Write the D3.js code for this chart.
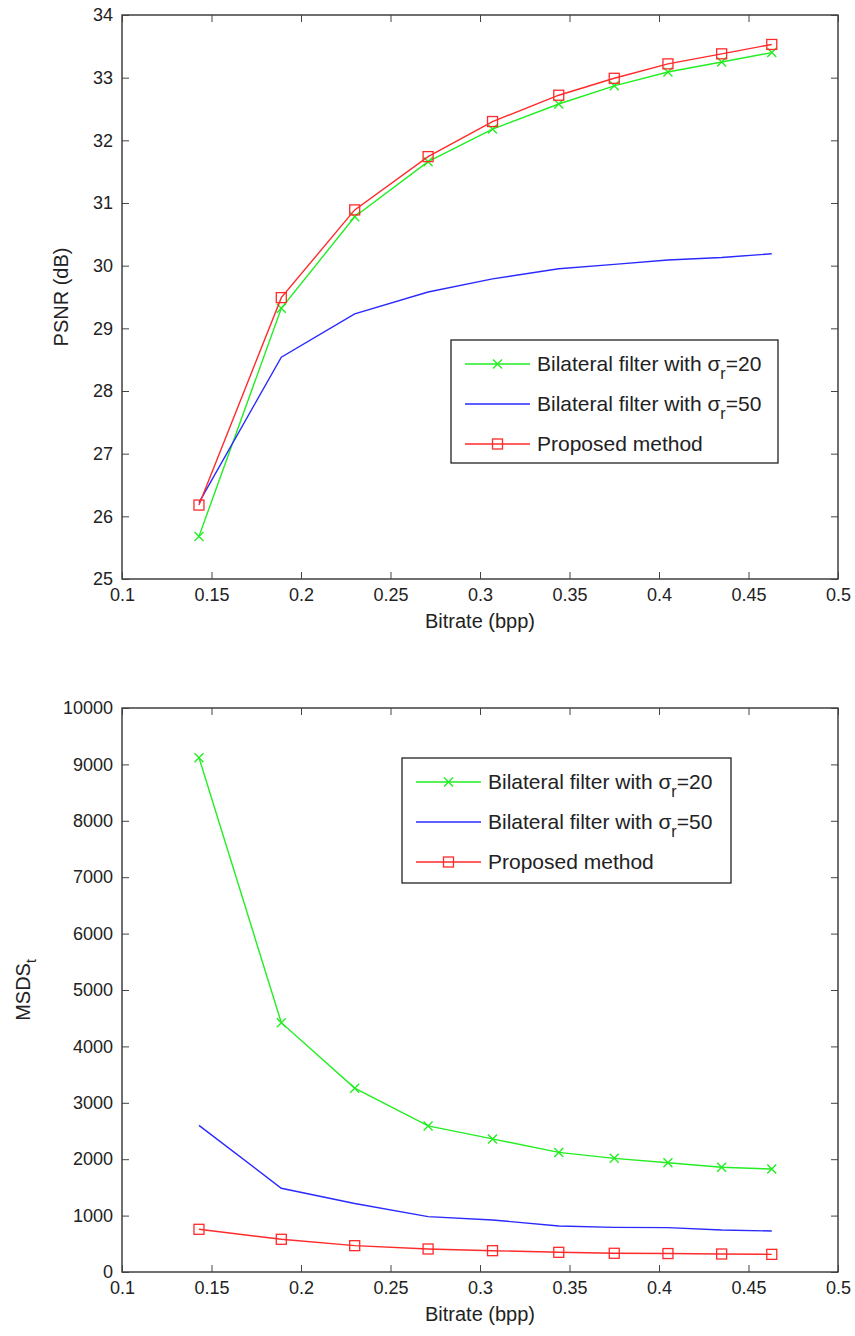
<!DOCTYPE html>
<html>
<head>
	<script src="https://cdn.jsdelivr.net/npm/d3@7"></script>
	<style>
		html, body {
			padding: 0;
			margin: 0;
			background: #fff;
		}
		text {
			font-family: "Liberation Sans", Arial, sans-serif;
			fill: #222;
		}
	</style>
</head>
<body>
	<script>
		// data
		var bitrate = [0.143, 0.189, 0.230, 0.271, 0.307, 0.344, 0.375, 0.405, 0.435, 0.463];

		var psnrBf20 = [25.68, 29.32, 30.78, 31.66, 32.18, 32.58, 32.87, 33.09, 33.25, 33.40];
		var psnrBf50 = [26.22, 28.54, 29.23, 29.58, 29.79, 29.95, 30.02, 30.09, 30.13, 30.19];
		var psnrProposed = [26.18, 29.49, 30.89, 31.74, 32.30, 32.72, 32.99, 33.22, 33.38, 33.53];

		var msdsBf20 = [9120, 4420, 3260, 2590, 2360, 2120, 2015, 1938, 1856, 1826];
		var msdsBf50 = [2600, 1484, 1215, 981, 922, 816, 792, 786, 745, 727];
		var msdsProposed = [757, 580, 467, 408, 378, 349, 332, 327, 319, 313];

		var xTicks = [0.1, 0.15, 0.2, 0.25, 0.3, 0.35, 0.4, 0.45, 0.5];
		var psnrTicks = [25, 26, 27, 28, 29, 30, 31, 32, 33, 34];
		var msdsTicks = [0, 1000, 2000, 3000, 4000, 5000, 6000, 7000, 8000, 9000, 10000];

		var seriesNames = ["Bilateral filter with σ", "Bilateral filter with σ", "Proposed method"];
		var seriesSub = ["r", "r", ""];
		var seriesTail = ["=20", "=50", ""];
		var seriesColors = ["#22ee22", "#2a2aff", "#ff2a2a"];
		var seriesMarkers = ["cross", "none", "square"];

		var width = 855, height = 1336;

		var svg = d3.select("body").append("svg")
			.attr("width", width)
			.attr("height", height);

		function drawPanel(opts) {
			var left = 122, right = 838;
			var top = opts.top, bottom = opts.top + 564;

			var x = d3.scaleLinear().domain([0.1, 0.5]).range([left, right]);
			var y = d3.scaleLinear().domain(opts.yDomain).range([bottom, top]);

			var g = svg.append("g");

			// box
			g.append("rect")
				.attr("x", left).attr("y", top)
				.attr("width", right - left).attr("height", bottom - top)
				.attr("fill", "none").attr("stroke", "#222").attr("stroke-width", 1.3);

			var xb = g.append("g").attr("transform", "translate(0," + bottom + ")")
				.call(d3.axisBottom(x).tickValues(xTicks).tickFormat(d3.format("")).tickSize(-7).tickPadding(9));
			var xt = g.append("g").attr("transform", "translate(0," + top + ")")
				.call(d3.axisTop(x).tickValues(xTicks).tickFormat("").tickSize(-7));
			var yl = g.append("g").attr("transform", "translate(" + left + ",0)")
				.call(d3.axisLeft(y).tickValues(opts.yTicks).tickFormat(d3.format("")).tickSize(-7).tickPadding(9));
			var yr = g.append("g").attr("transform", "translate(" + right + ",0)")
				.call(d3.axisRight(y).tickValues(opts.yTicks).tickFormat("").tickSize(-7));

			[xb, xt, yl, yr].forEach(function(a) {
				a.select(".domain").remove();
				a.selectAll("line").attr("stroke", "#444").attr("stroke-width", 1);
				a.selectAll("text").style("font-size", "18px").attr("fill", "#222");
			});

			// x label
			g.append("text")
				.attr("x", (left + right) / 2)
				.attr("y", bottom + 49)
				.attr("text-anchor", "middle")
				.style("font-size", "20px")
				.text("Bitrate (bpp)");

			// y label
			var yt = g.append("text")
				.attr("transform", "translate(" + opts.yLabelX + "," + (top + bottom) / 2 + ") rotate(-90)")
				.attr("text-anchor", "middle")
				.style("font-size", "20px");
			yt.append("tspan").text(opts.yLabel);
			if (opts.yLabelSub) {
				yt.append("tspan").attr("dy", 6).style("font-size", "14px").text(opts.yLabelSub);
			}

			var line = d3.line()
				.x(function(d, i) { return x(bitrate[i]); })
				.y(function(d) { return y(d); });

			opts.series.forEach(function(vals, k) {
				g.append("path")
					.datum(vals)
					.attr("d", line)
					.attr("fill", "none")
					.attr("stroke", seriesColors[k])
					.attr("stroke-width", 1.4);

				vals.forEach(function(v, i) {
					drawMarker(g, seriesMarkers[k], x(bitrate[i]), y(v), seriesColors[k]);
				});
			});

			// legend
			var lg = g.append("g");
			lg.append("rect")
				.attr("x", opts.legend.x).attr("y", opts.legend.y)
				.attr("width", opts.legend.w).attr("height", opts.legend.h)
				.attr("fill", "#fff").attr("stroke", "#222").attr("stroke-width", 1.3);

			seriesNames.forEach(function(name, k) {
				var ry = opts.legend.y + 24 + k * 40;
				var lx0 = opts.legend.x + 14, lx1 = opts.legend.x + 79;
				lg.append("line")
					.attr("x1", lx0).attr("x2", lx1)
					.attr("y1", ry).attr("y2", ry)
					.attr("stroke", seriesColors[k]).attr("stroke-width", 1.4);
				drawMarker(lg, seriesMarkers[k], (lx0 + lx1) / 2, ry, seriesColors[k]);

				var t = lg.append("text")
					.attr("x", opts.legend.x + 86)
					.attr("y", ry + 7)
					.style("font-size", "21px");
				t.append("tspan").text(name);
				if (seriesSub[k]) {
					t.append("tspan").attr("dy", 8).style("font-size", "16px").text(seriesSub[k]);
					t.append("tspan").attr("dy", -8).text(seriesTail[k]);
				}
			});
		}

		function drawMarker(g, type, cx, cy, color) {
			if (type === "square") {
				g.append("rect")
					.attr("x", cx - 5).attr("y", cy - 5)
					.attr("width", 10).attr("height", 10)
					.attr("fill", "none").attr("stroke", color).attr("stroke-width", 1.3);
			} else if (type === "cross") {
				var s = 4.5;
				g.append("path")
					.attr("d", "M" + (cx - s) + "," + (cy - s) + "L" + (cx + s) + "," + (cy + s) +
						"M" + (cx - s) + "," + (cy + s) + "L" + (cx + s) + "," + (cy - s))
					.attr("stroke", color).attr("stroke-width", 1.4);
			}
		}

		// PSNR panel
		drawPanel({
			top: 15,
			yDomain: [25, 34],
			yTicks: psnrTicks,
			yLabel: "PSNR (dB)",
			yLabelX: 68,
			series: [psnrBf20, psnrBf50, psnrProposed],
			legend: { x: 451, y: 340, w: 327, h: 123 }
		});

		// MSDS panel
		drawPanel({
			top: 708,
			yDomain: [0, 10000],
			yTicks: msdsTicks,
			yLabel: "MSDS",
			yLabelSub: "t",
			yLabelX: 30,
			series: [msdsBf20, msdsBf50, msdsProposed],
			legend: { x: 402, y: 758, w: 329, h: 125 }
		});
	</script>
</body>
</html>
